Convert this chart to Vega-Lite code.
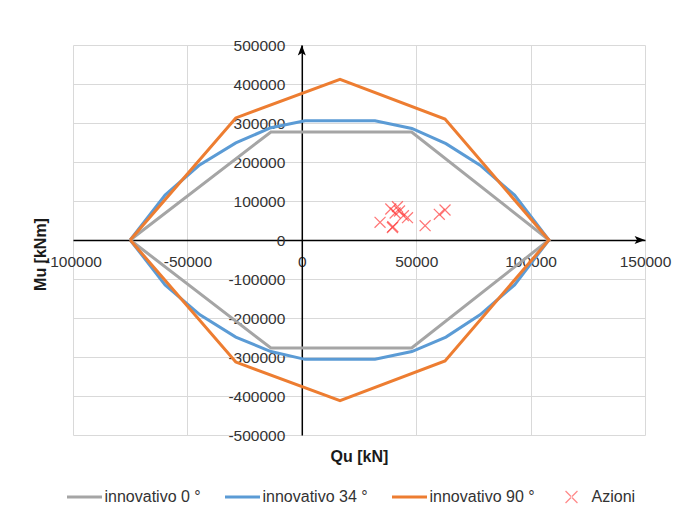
{
  "$schema": "https://vega.github.io/schema/vega-lite/v6.json",
  "width": 572,
  "height": 390,
  "autosize": {"type": "none"},
  "padding": {"left": 73, "top": 45, "right": 30, "bottom": 81},
  "background": "white",
  "config": {
    "font": "Liberation Sans",
    "view": {"stroke": null}
  },
  "datasets": {
    "curve": [
      {"serie": "innovativo 0 °", "i": 0, "Qu": -75000, "Mu": 0},
      {"serie": "innovativo 0 °", "i": 1, "Qu": -13500, "Mu": 277000},
      {"serie": "innovativo 0 °", "i": 2, "Qu": 48000, "Mu": 277000},
      {"serie": "innovativo 0 °", "i": 3, "Qu": 108000, "Mu": 0},
      {"serie": "innovativo 0 °", "i": 4, "Qu": 48000, "Mu": -277000},
      {"serie": "innovativo 0 °", "i": 5, "Qu": -13500, "Mu": -277000},
      {"serie": "innovativo 0 °", "i": 6, "Qu": -75000, "Mu": 0},

      {"serie": "innovativo 34 °", "i": 0, "Qu": -75000, "Mu": 0},
      {"serie": "innovativo 34 °", "i": 1, "Qu": -59750, "Mu": 115000},
      {"serie": "innovativo 34 °", "i": 2, "Qu": -45000, "Mu": 191000},
      {"serie": "innovativo 34 °", "i": 3, "Qu": -28850, "Mu": 249000},
      {"serie": "innovativo 34 °", "i": 4, "Qu": -13500, "Mu": 288000},
      {"serie": "innovativo 34 °", "i": 5, "Qu": 1400, "Mu": 306000},
      {"serie": "innovativo 34 °", "i": 6, "Qu": 32000, "Mu": 306000},
      {"serie": "innovativo 34 °", "i": 7, "Qu": 48100, "Mu": 286000},
      {"serie": "innovativo 34 °", "i": 8, "Qu": 63000, "Mu": 247000},
      {"serie": "innovativo 34 °", "i": 9, "Qu": 77900, "Mu": 192000},
      {"serie": "innovativo 34 °", "i": 10, "Qu": 93000, "Mu": 115000},
      {"serie": "innovativo 34 °", "i": 11, "Qu": 108000, "Mu": 0},
      {"serie": "innovativo 34 °", "i": 12, "Qu": 93000, "Mu": -115000},
      {"serie": "innovativo 34 °", "i": 13, "Qu": 77900, "Mu": -192000},
      {"serie": "innovativo 34 °", "i": 14, "Qu": 63000, "Mu": -249000},
      {"serie": "innovativo 34 °", "i": 15, "Qu": 48100, "Mu": -286000},
      {"serie": "innovativo 34 °", "i": 16, "Qu": 32000, "Mu": -306000},
      {"serie": "innovativo 34 °", "i": 17, "Qu": 1400, "Mu": -306000},
      {"serie": "innovativo 34 °", "i": 18, "Qu": -13500, "Mu": -286000},
      {"serie": "innovativo 34 °", "i": 19, "Qu": -28850, "Mu": -249000},
      {"serie": "innovativo 34 °", "i": 20, "Qu": -44500, "Mu": -192000},
      {"serie": "innovativo 34 °", "i": 21, "Qu": -59750, "Mu": -115000},
      {"serie": "innovativo 34 °", "i": 22, "Qu": -75000, "Mu": 0},

      {"serie": "innovativo 90 °", "i": 0, "Qu": -75000, "Mu": 0},
      {"serie": "innovativo 90 °", "i": 1, "Qu": -28850, "Mu": 313000},
      {"serie": "innovativo 90 °", "i": 2, "Qu": 16700, "Mu": 412000},
      {"serie": "innovativo 90 °", "i": 3, "Qu": 62600, "Mu": 310000},
      {"serie": "innovativo 90 °", "i": 4, "Qu": 108000, "Mu": 0},
      {"serie": "innovativo 90 °", "i": 5, "Qu": 62600, "Mu": -310000},
      {"serie": "innovativo 90 °", "i": 6, "Qu": 16700, "Mu": -412000},
      {"serie": "innovativo 90 °", "i": 7, "Qu": -28850, "Mu": -313000},
      {"serie": "innovativo 90 °", "i": 8, "Qu": -75000, "Mu": 0}
    ],
    "azioni": [
      {"serie": "Azioni", "Qu": 34200, "Mu": 45400},
      {"serie": "Azioni", "Qu": 39800, "Mu": 34100},
      {"serie": "Azioni", "Qu": 39600, "Mu": 32000},
      {"serie": "Azioni", "Qu": 38900, "Mu": 79500},
      {"serie": "Azioni", "Qu": 41800, "Mu": 85400},
      {"serie": "Azioni", "Qu": 42700, "Mu": 74400},
      {"serie": "Azioni", "Qu": 40800, "Mu": 69200},
      {"serie": "Azioni", "Qu": 44400, "Mu": 62300},
      {"serie": "Azioni", "Qu": 46200, "Mu": 57200},
      {"serie": "Azioni", "Qu": 53900, "Mu": 36700},
      {"serie": "Azioni", "Qu": 60100, "Mu": 65900},
      {"serie": "Azioni", "Qu": 62600, "Mu": 76900}
    ],
    "assi": [
      {"asse": "Mu", "Qu": 0, "Mu": 500000},
      {"asse": "Qu", "Qu": 150000, "Mu": 0}
    ]
  },
  "layer": [
    {
      "data": {"name": "curve"},
      "mark": {"type": "line", "strokeWidth": 3},
      "encoding": {
        "x": {
          "field": "Qu",
          "type": "quantitative",
          "scale": {"domain": [-100000, 150000], "nice": false, "zero": false},
          "axis": {
            "orient": "bottom",
            "offset": -195,
            "values": [-100000, -50000, 0, 50000, 100000, 150000],
            "tickCount": 20,
            "labelExpr": "'' + datum.value",
            "grid": true,
            "gridColor": "#d9d9d9",
            "gridWidth": 1,
            "domainColor": "black",
            "domainWidth": 1.5,
            "ticks": false,
            "labelPadding": 14,
            "labelFontSize": 15.5,
            "labelColor": "#333333",
            "labelFlush": false,
            "labelOverlap": false,
            "title": "Qu [kN]",
            "titleFontSize": 16,
            "titleFontWeight": "bold",
            "titleColor": "#1a1a1a",
            "titleY": 216,
            "titleBaseline": "middle",
            "zindex": 0
          }
        },
        "y": {
          "field": "Mu",
          "type": "quantitative",
          "scale": {"domain": [-500000, 500000], "nice": false, "zero": false},
          "axis": {
            "orient": "left",
            "offset": -228.8,
            "values": [-500000, -400000, -300000, -200000, -100000, 0, 100000, 200000, 300000, 400000, 500000],
            "tickCount": 20,
            "labelExpr": "'' + datum.value",
            "grid": true,
            "gridColor": "#d9d9d9",
            "gridWidth": 1,
            "domainColor": "black",
            "domainWidth": 1.5,
            "ticks": false,
            "labelPadding": 17,
            "labelFontSize": 15.5,
            "labelColor": "#333333",
            "labelFlush": false,
            "labelOverlap": false,
            "title": "Mu [kNm]",
            "titleFontSize": 16,
            "titleFontWeight": "bold",
            "titleColor": "#1a1a1a",
            "titleX": -261,
            "titleY": 209,
            "titleBaseline": "middle",
            "zindex": 0
          }
        },
        "color": {
          "field": "serie",
          "type": "nominal",
          "scale": {
            "domain": ["innovativo 0 °", "innovativo 34 °", "innovativo 90 °", "Azioni"],
            "range": ["#a5a5a5", "#5b9bd5", "#ed7d31", "#ff3b3b"]
          },
          "legend": {
            "orient": "none",
            "legendX": -7.5,
            "legendY": 433,
            "direction": "horizontal",
            "title": null,
            "padding": 0,
            "symbolType": "stroke",
            "symbolSize": 1225,
            "symbolStrokeWidth": 3,
            "labelFontSize": 16,
            "labelColor": "#333333",
            "labelOffset": 1,
            "columnPadding": 17,
            "encode": {
              "symbols": {
                "update": {
                  "shape": {"signal": "datum.value === 'Azioni' ? 'M-0.315,-0.365L0.365,0.315L0.315,0.365L-0.365,-0.315ZM-0.315,0.365L0.365,-0.315L0.315,-0.365L-0.365,0.315Z' : 'stroke'"},
                  "fill": {"signal": "datum.value === 'Azioni' ? '#ff3b3b' : 'transparent'"},
                  "strokeOpacity": {"signal": "datum.value === 'Azioni' ? 0 : 1"},
                  "opacity": {"signal": "datum.value === 'Azioni' ? 0.6 : 1"}
                }
              }
            }
          }
        },
        "order": {"field": "i", "type": "quantitative"}
      }
    },
    {
      "data": {"name": "azioni"},
      "mark": {
        "type": "point",
        "shape": "M-1,-1L1,1M-1,1L1,-1",
        "size": 120,
        "filled": false,
        "strokeWidth": 1.2,
        "opacity": 0.7
      },
      "encoding": {
        "x": {"field": "Qu", "type": "quantitative"},
        "y": {"field": "Mu", "type": "quantitative"},
        "color": {"field": "serie", "type": "nominal"}
      }
    },
    {
      "data": {"name": "assi"},
      "transform": [{"filter": "datum.asse === 'Mu'"}],
      "mark": {
        "type": "point",
        "shape": "M0,0L-1,2.6L0,2L1,2.6Z",
        "size": 64,
        "filled": true,
        "color": "black",
        "opacity": 1,
        "strokeWidth": 0
      },
      "encoding": {
        "x": {"field": "Qu", "type": "quantitative"},
        "y": {"field": "Mu", "type": "quantitative"}
      }
    },
    {
      "data": {"name": "assi"},
      "transform": [{"filter": "datum.asse === 'Qu'"}],
      "mark": {
        "type": "point",
        "shape": "M0,0L-2.6,-1L-2,0L-2.6,1Z",
        "size": 64,
        "filled": true,
        "color": "black",
        "opacity": 1,
        "strokeWidth": 0
      },
      "encoding": {
        "x": {"field": "Qu", "type": "quantitative"},
        "y": {"field": "Mu", "type": "quantitative"}
      }
    }
  ]
}
